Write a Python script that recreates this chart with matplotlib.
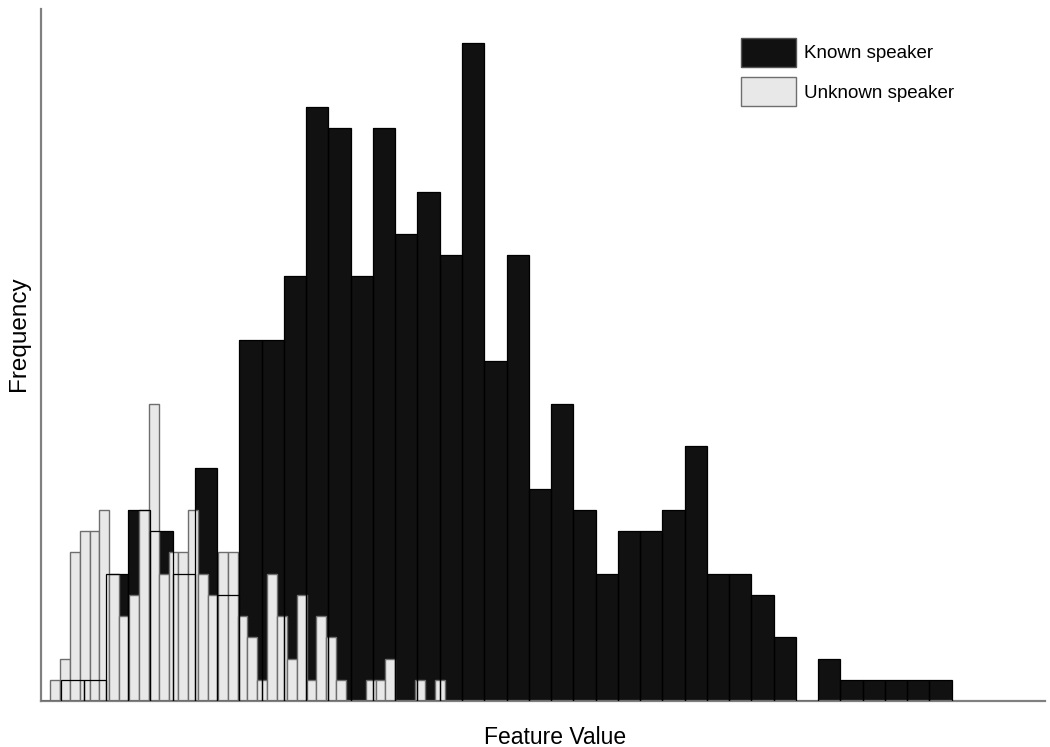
import matplotlib.pyplot as plt
from matplotlib.patches import Patch
import numpy as np

# known speaker histogram: bin width 1, first bin starts at 0
known_counts = [0, 1, 1, 6, 9, 8, 6, 11, 5, 17, 17, 20, 28, 27, 20, 27, 22, 24, 21, 31,
                16, 21, 10, 14, 9, 6, 8, 8, 9, 12, 6, 6, 5, 3, 0, 2, 1, 1, 1, 1, 1]
known_start = 0.0
known_width = 1.0

# unknown speaker histogram: narrower bins
unknown_counts = [1, 2, 7, 8, 8, 9, 6, 4, 5, 9, 14, 6, 7, 7, 9, 6, 5, 7, 7, 4,
                  3, 1, 6, 4, 2, 5, 1, 4, 3, 1, 0, 0, 1, 1, 2, 0, 0, 1, 0, 1]
unknown_start = 0.494
unknown_width = 0.443

labels = ["Known speaker", "Unknown speaker"]

KNOWN_FILL = "#111111"
UNKNOWN_FILL = "#e8e8e8"
UNKNOWN_EDGE = "#6e6e6e"

fig = plt.figure(figsize=(10.5, 7.47), dpi=100)
ax = fig.add_axes([41 / 1050, 46 / 747, 1004 / 1050, 692 / 747])

kx = known_start + known_width * np.arange(len(known_counts))
ux = unknown_start + unknown_width * np.arange(len(unknown_counts))

# fill of known bars, then unknown bars, then known outlines on top
ax.bar(kx, known_counts, width=known_width, align='edge', color=KNOWN_FILL,
       linewidth=0, zorder=1)
ax.bar(ux, unknown_counts, width=unknown_width, align='edge', color=UNKNOWN_FILL,
       edgecolor=UNKNOWN_EDGE, linewidth=1.0, zorder=2)
ax.bar(kx, known_counts, width=known_width, align='edge', fill=False,
       edgecolor='black', linewidth=0.9, zorder=3)

ax.set_xlim(0.08, 45.2)
ax.set_ylim(0, 32.6)
ax.set_xticks([])
ax.set_yticks([])
for s in ['top', 'right']:
    ax.spines[s].set_visible(False)
for s in ['left', 'bottom']:
    ax.spines[s].set_color('#808080')
    ax.spines[s].set_linewidth(1.6)

fig.text(555 / 1050, 1 - 737 / 747, "Feature Value", ha='center', va='center',
         fontsize=16.5, family='Liberation Sans')
fig.text(19 / 1050, 1 - 334 / 747, "Frequency", ha='center', va='center',
         rotation=90, fontsize=17.5, family='Liberation Sans')

handles = [Patch(facecolor=KNOWN_FILL, edgecolor='#555555', linewidth=1.0),
           Patch(facecolor=UNKNOWN_FILL, edgecolor=UNKNOWN_EDGE, linewidth=1.0)]
ax.legend(handles, labels, loc='upper left',
          bbox_to_anchor=(741 / 1050, 1 - 38 / 747), bbox_transform=fig.transFigure,
          frameon=False, borderpad=0, borderaxespad=0, handlelength=2.93,
          handleheight=2.0, handletextpad=0.43, labelspacing=0.56,
          prop={'family': 'Liberation Sans', 'size': 13.5})

plt.savefig('out.png', dpi=100)
